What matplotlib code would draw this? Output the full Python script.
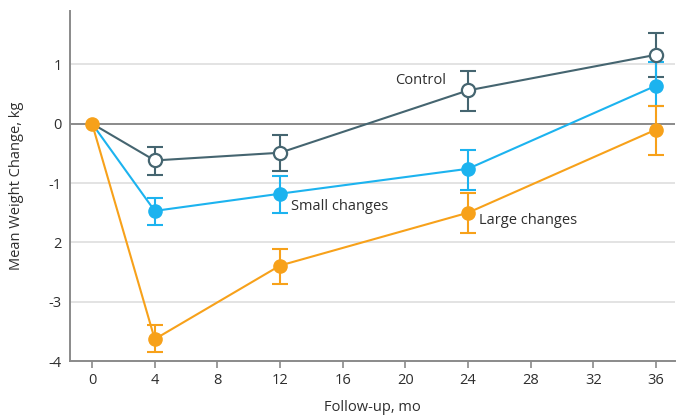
import matplotlib.pyplot as plt
import numpy as np

plt.rcParams['font.family'] = ['Open Sans', 'DejaVu Sans']

months = [0, 4, 12, 24, 36]

# mean weight change, kg, with lower / upper ends of the error bars
control = [0, -0.62, -0.49, 0.56, 1.16]
control_lo = [0, -0.86, -0.79, 0.22, 0.79]
control_hi = [0, -0.40, -0.19, 0.89, 1.53]

small = [0, -1.47, -1.18, -0.76, 0.64]
small_lo = [0, -1.70, -1.50, -1.11, 0.29]
small_hi = [0, -1.26, -0.89, -0.44, 1.03]

large = [0, -3.63, -2.39, -1.50, -0.10]
large_lo = [0, -3.84, -2.70, -1.84, -0.52]
large_hi = [0, -3.39, -2.11, -1.16, 0.29]

xticks = [0, 4, 8, 12, 16, 20, 24, 28, 32, 36]
yticks = [-4, -3, -2, -1, 0, 1]
ytick_labels = ['-4', '-3', '2', '-1', '0', '1']

c_control = '#456570'
c_small = '#1cb3ef'
c_large = '#f7a11a'
c_text = '#2e2e2e'

fig = plt.figure(figsize=(6.81, 4.17), dpi=100)
ax = fig.add_axes([0.103, 0.134, 0.888, 0.840])

for yv in yticks:
    if yv == 0:
        ax.axhline(yv, color='#8a8a8a', lw=1.4, zorder=1)
    elif yv != -4:
        ax.axhline(yv, color='#dedede', lw=1.2, zorder=1)


def series(y, lo, hi, col, open_marker):
    y = np.array(y)
    err = np.array([y - np.array(lo), np.array(hi) - y])
    ax.errorbar(months[1:], y[1:], yerr=err[:, 1:], fmt='none', ecolor=col,
                elinewidth=1.5, capsize=6, capthick=1.5, zorder=3)
    ax.plot(months, y, color=col, lw=1.5, zorder=4)
    if open_marker:
        ax.plot(months[1:], y[1:], 'o', ms=9.5, mfc='white', mec=col, mew=1.6, zorder=5)
    else:
        ax.plot(months[1:], y[1:], 'o', ms=9.5, mfc=col, mec=col, zorder=5)


series(control, control_lo, control_hi, c_control, True)
series(small, small_lo, small_hi, c_small, False)
series(large, large_lo, large_hi, c_large, False)
ax.plot([0], [0], 'o', ms=9.5, color=c_large, zorder=6)

fs = 10.5
ax.text(22.6, 0.72, 'Control', ha='right', va='center', fontsize=fs, color=c_text)
ax.text(12.7, -1.40, 'Small changes', ha='left', va='center', fontsize=fs, color=c_text)
ax.text(24.7, -1.63, 'Large changes', ha='left', va='center', fontsize=fs, color=c_text)

ax.set_xlim(-1.4, 37.2)
ax.set_ylim(-4, 1.9)
ax.set_xticks(xticks)
ax.set_yticks(yticks)
ax.set_yticklabels(ytick_labels)
ax.tick_params(axis='x', colors='#8a8a8a', labelcolor=c_text, labelsize=fs, length=5, width=1.2)
ax.tick_params(axis='y', length=0, labelcolor=c_text, labelsize=fs, pad=6)
for s in ['top', 'right']:
    ax.spines[s].set_visible(False)
for s in ['left', 'bottom']:
    ax.spines[s].set_color('#8a8a8a')
    ax.spines[s].set_linewidth(1.4)

ax.set_xlabel('Follow-up, mo', fontsize=fs, color=c_text, labelpad=9)
ax.set_ylabel('Mean Weight Change, kg', fontsize=fs, color=c_text, labelpad=18)

fig.savefig('out.png', dpi=100)
